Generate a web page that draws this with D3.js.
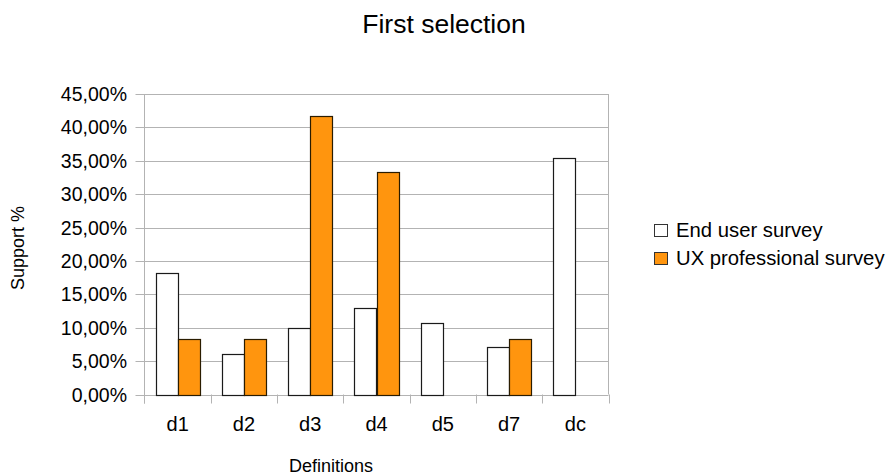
<!DOCTYPE html>
<html>
<head>
<meta charset="utf-8">
<script src="https://cdn.jsdelivr.net/npm/d3@7"></script>
<style>
  html, body { margin: 0; padding: 0; background: #fff; }
  svg { display: block; font-family: "Liberation Sans", Arial, sans-serif; }
</style>
</head>
<body>
<svg id="chart" width="891" height="475"></svg>
<script>
const categories = ["d1", "d2", "d3", "d4", "d5", "d7", "dc"];
const seriesNames = ["End user survey", "UX professional survey"];
const endUser = [18.18, 6.06, 10.0, 13.0, 10.7, 7.1, 35.35];
const uxPro = [8.33, 8.33, 41.67, 33.33, null, 8.33, null];
const yTicks = [0, 5, 10, 15, 20, 25, 30, 35, 40, 45];
const colors = ["#ffffff", "#ff950e"];

(function () {
const series = [endUser, uxPro];
const svg = d3.select("#chart");
const pLeft = 144.5, pRight = 608.5, pTop = 94, pBottom = 394.5;

const x = d3.scaleBand().domain(categories).range([pLeft, pRight]).padding(0);
const xs = d3.scaleBand().domain(seriesNames).range([0, x.bandwidth()]).paddingInner(0).paddingOuter(0.5);
const y = d3.scaleLinear().domain([0, 45]).range([pBottom, pTop]);
const fmt = v => d3.format(".2f")(v).replace(".", ",") + "%";

// gridlines
svg.append("g").selectAll("line").data(yTicks).join("line")
  .attr("x1", pLeft - 9).attr("x2", pRight)
  .attr("y1", d => Math.round(y(d)) + 0.5).attr("y2", d => Math.round(y(d)) + 0.5)
  .attr("stroke", "#b3b3b3").attr("stroke-width", 1);

// right border
svg.append("line").attr("x1", pRight).attr("x2", pRight).attr("y1", y(45)).attr("y2", y(0))
  .attr("stroke", "#b3b3b3");

// y axis line
svg.append("line").attr("x1", pLeft).attr("x2", pLeft).attr("y1", y(45)).attr("y2", y(0) + 9)
  .attr("stroke", "#b3b3b3");

// x ticks at category boundaries
const bounds = categories.map(c => x(c)).concat([pRight]);
svg.append("g").selectAll("line").data(bounds).join("line")
  .attr("x1", d => Math.round(d) + 0.5).attr("x2", d => Math.round(d) + 0.5)
  .attr("y1", y(0)).attr("y2", y(0) + 9)
  .attr("stroke", "#b3b3b3");

// y labels
svg.append("g").selectAll("text").data(yTicks).join("text")
  .attr("x", 127).attr("y", d => y(d)).attr("dy", "0.36em")
  .attr("text-anchor", "end").attr("font-size", 19.5).attr("fill", "#000")
  .text(fmt);

// bars
series.forEach((vals, si) => {
  svg.append("g").selectAll("rect")
    .data(categories.map((c, i) => ({c, v: vals[i]})).filter(d => d.v != null))
    .join("rect")
    .attr("x", d => Math.round(x(d.c) + xs(seriesNames[si])) + 0.5)
    .attr("width", Math.round(xs.bandwidth()))
    .attr("y", d => Math.round(y(d.v)) + 0.5)
    .attr("height", d => Math.round(y(0)) - Math.round(y(d.v)))
    .attr("fill", colors[si])
    .attr("stroke", si === 0 ? "#1a1a1a" : "#2a1c00")
    .attr("stroke-width", 1.2);
});

// x labels
svg.append("g").selectAll("text").data(categories).join("text")
  .attr("x", d => x(d) + x.bandwidth() / 2).attr("y", 431)
  .attr("text-anchor", "middle").attr("font-size", 20).attr("fill", "#000")
  .text(d => d);

// title
svg.append("text").attr("x", 444).attr("y", 33).attr("text-anchor", "middle")
  .attr("font-size", 26.5).attr("fill", "#000").text("First selection");

// axis titles
svg.append("text").attr("x", 331).attr("y", 472).attr("text-anchor", "middle")
  .attr("font-size", 18).attr("fill", "#000").text("Definitions");
svg.append("text").attr("transform", "translate(24,248) rotate(-90)").attr("text-anchor", "middle")
  .attr("font-size", 18).attr("fill", "#000").text("Support %");

// legend
const lg = svg.append("g");
seriesNames.forEach((n, i) => {
  const yy = 224 + i * 28;
  lg.append("rect").attr("x", 654.5).attr("y", yy + 0.5).attr("width", 13).attr("height", 12)
    .attr("fill", colors[i]).attr("stroke", "#333").attr("stroke-width", 1);
  lg.append("text").attr("x", 676).attr("y", yy + 13).attr("font-size", 20.3).attr("fill", "#000").text(n);
});
})();
</script>
</body>
</html>
